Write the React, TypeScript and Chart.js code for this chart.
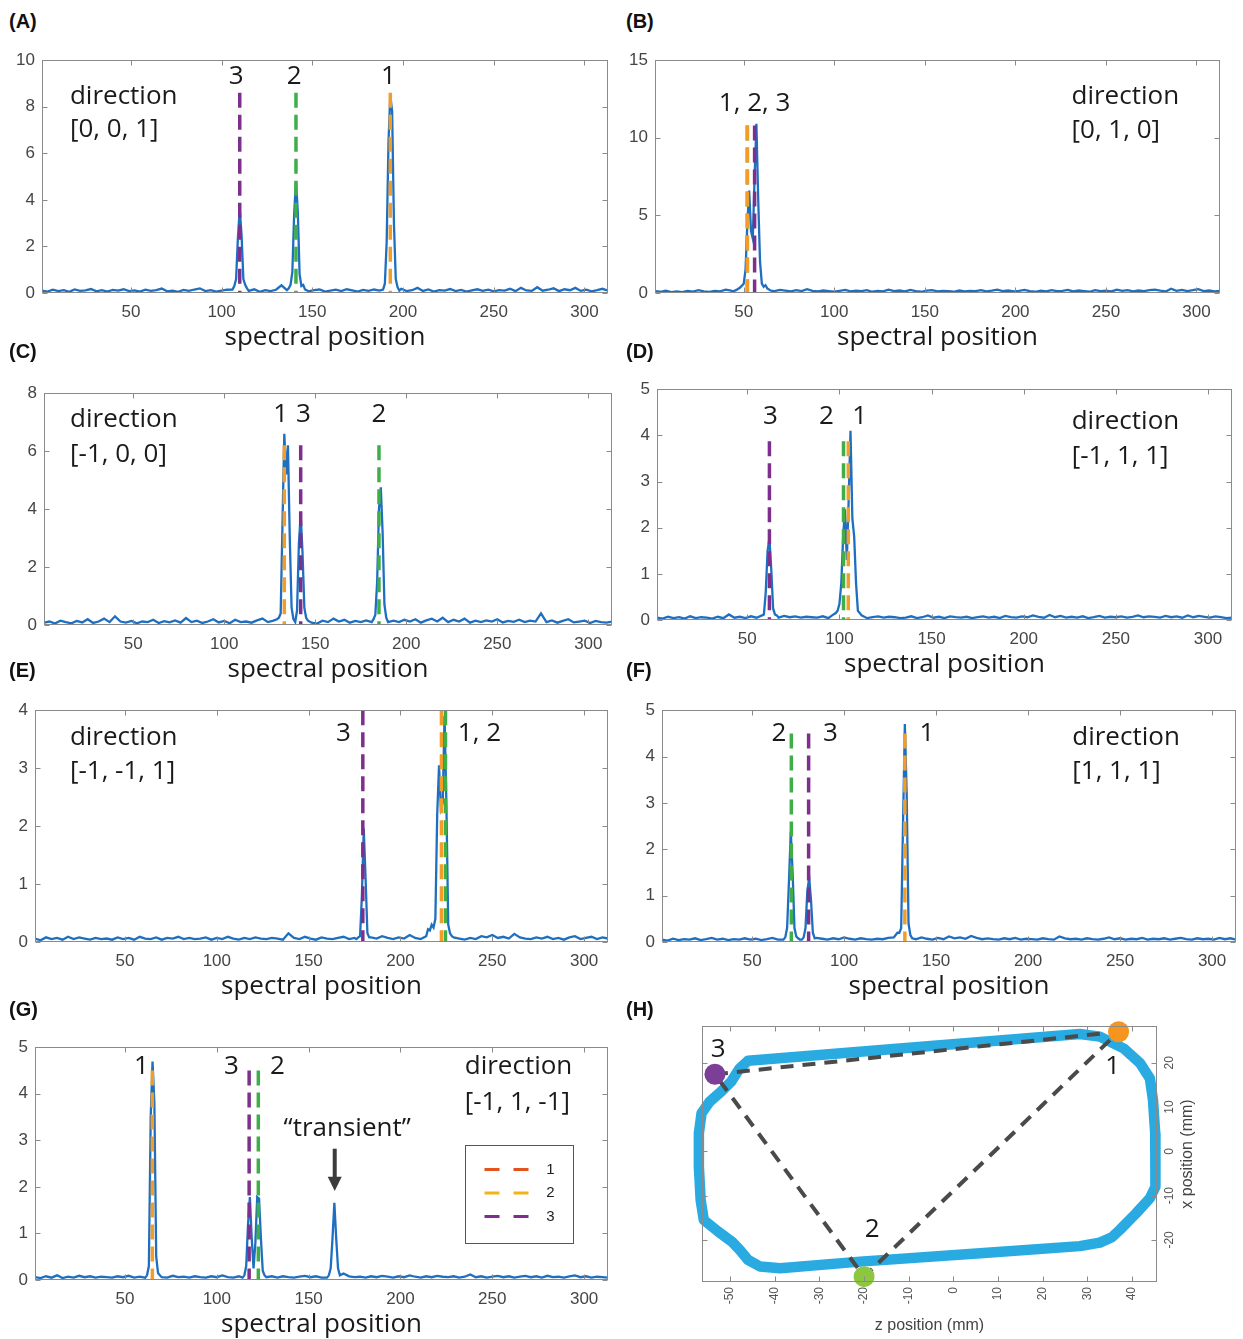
import React, { useEffect, useRef } from "react";
import { Chart, registerables } from "chart.js";
Chart.register(...registerables);

// ---------------- shared axis data ----------------
const X_TICKS = [50, 100, 150, 200, 250, 300];
const X_MIN = 1;
const X_MAX = 313;
const BASE_X0 = 1;
const BASE_STEP = 3;

const COLOR_BLUE = "#1f6fc0";
const MARK_COLORS: Record<number, string> = { 1: "#f29d2a", 2: "#3fae49", 3: "#7e2f8e" };
const LEGEND_COLORS = ["#e2531d", "#f2b316", "#7e2f8e"];
const LEGEND_LABELS = ["1", "2", "3"];
const AXIS_COLOR = "#8a8a8a";
const TEXT_COLOR = "#1a1a1a";
const ANNOT_FONT = "'Open Sans', sans-serif";
const TICK_FONT = "'Liberation Sans', Arial, sans-serif";

// ---------------- panel A: direction [0,0,1] ----------------
const baseA = [
  0.10, 0.06, 0.14, 0.08, 0.12, 0.05, 0.15, 0.09, 0.11, 0.17, 0.07, 0.12, 0.06, 0.13, 0.10,
  0.16, 0.08, 0.11, 0.06, 0.14, 0.09, 0.12, 0.19, 0.07, 0.10, 0.05, 0.13, 0.09, 0.15, 0.20,
  0.08, 0.12, 0.06, 0.10, 0.14, 0.07, 0.22, 0.11, 0.09, 0.16, 0.05, 0.12, 0.08, 0.14, 0.33,
  0.12, 0.25, 0.09, 0.18, 0.07, 0.12, 0.15, 0.06, 0.10, 0.14, 0.08, 0.16, 0.11, 0.06, 0.13,
  0.09, 0.15, 0.10, 0.07, 0.14, 0.11, 0.18, 0.08, 0.12, 0.22, 0.09, 0.15, 0.06, 0.12, 0.10,
  0.17, 0.08, 0.13, 0.06, 0.11, 0.16, 0.09, 0.14, 0.07, 0.12, 0.10, 0.18, 0.08, 0.22, 0.11,
  0.09, 0.25, 0.10, 0.14, 0.20, 0.08, 0.16, 0.12, 0.22, 0.09, 0.14, 0.07, 0.12, 0.18, 0.10,
];
const peaksA = [
  [[106, 0.15], [107, 0.3], [108, 0.6], [109, 2.4], [110, 3.6], [111, 2.5], [112, 0.6], [113, 0.35], [114, 0.2]],
  [[137, 0.2], [138, 0.35], [139, 0.9], [140, 3.4], [141, 4.8], [142, 3.5], [143, 0.8], [144, 0.3], [145, 0.35], [146, 0.15]],
  [[189, 0.15], [190, 0.4], [191, 2.2], [192, 6.5], [193, 8.5], [194, 7.8], [195, 3.0], [196, 0.6], [197, 0.25], [198, 0.1]],
];
const markersA = [{ id: 3, x: 110, top: 8.6 }, { id: 2, x: 141, top: 8.6 }, { id: 1, x: 193, top: 8.6 }];
const numsA = [{ t: "3", x: 108, y: 9.3 }, { t: "2", x: 140, y: 9.3 }, { t: "1", x: 192, y: 9.3 }];
const dirA = ["direction", "[0, 0, 1]"];

// ---------------- panel B: direction [0,1,0] ----------------
const baseB = [
  0.12, 0.08, 0.15, 0.06, 0.10, 0.05, 0.13, 0.09, 0.18, 0.11, 0.07, 0.14, 0.10, 0.22, 0.15,
  0.20, 0.12, 0.18, 0.10, 0.22, 0.15, 0.28, 0.12, 0.20, 0.15, 0.10, 0.18, 0.12, 0.25, 0.14,
  0.10, 0.16, 0.12, 0.08, 0.14, 0.20, 0.10, 0.15, 0.12, 0.18, 0.08, 0.14, 0.10, 0.22, 0.12,
  0.16, 0.10, 0.20, 0.12, 0.08, 0.15, 0.18, 0.10, 0.14, 0.12, 0.08, 0.16, 0.10, 0.14, 0.12,
  0.18, 0.10, 0.15, 0.22, 0.12, 0.16, 0.10, 0.14, 0.20, 0.12, 0.08, 0.15, 0.10, 0.18, 0.12,
  0.14, 0.20, 0.10, 0.16, 0.12, 0.08, 0.18, 0.12, 0.15, 0.10, 0.22, 0.14, 0.18, 0.10, 0.16,
  0.12, 0.18, 0.22, 0.15, 0.10, 0.28, 0.14, 0.20, 0.12, 0.18, 0.25, 0.12, 0.16, 0.10, 0.14,
];
const peaksB = [
  [[44, 0.1], [46, 0.2], [48, 0.35], [50, 0.6], [51, 1.5], [52, 4.5], [53, 6.6], [54, 4.0], [55, 3.5], [56, 7.5],
   [57, 10.9], [58, 6.0], [59, 2.0], [60, 0.6], [61, 0.4], [62, 0.5], [63, 0.3], [65, 0.15]],
];
const markersB = [{ id: 1, x: 52, top: 10.8 }, { id: 2, x: 52, top: 10.8 }, { id: 3, x: 56, top: 10.8 }];
const numsB = [{ t: "1, 2, 3", x: 56, y: 12.2 }];
const dirB = ["direction", "[0, 1, 0]"];

// ---------------- panel C: direction [-1,0,0] ----------------
const baseC = [
  0.08, 0.12, 0.05, 0.15, 0.10, 0.06, 0.14, 0.09, 0.20, 0.07, 0.12, 0.22, 0.10, 0.30, 0.12,
  0.08, 0.14, 0.06, 0.12, 0.10, 0.18, 0.07, 0.13, 0.09, 0.16, 0.08, 0.24, 0.10, 0.15, 0.07,
  0.12, 0.20, 0.09, 0.14, 0.06, 0.18, 0.10, 0.12, 0.08, 0.16, 0.22, 0.10, 0.15, 0.25, 0.12,
  0.10, 0.12, 0.06, 0.14, 0.08, 0.05, 0.15, 0.10, 0.22, 0.12, 0.18, 0.08, 0.14, 0.10, 0.16,
  0.10, 0.08, 0.12, 0.28, 0.15, 0.10, 0.18, 0.12, 0.20, 0.08, 0.16, 0.22, 0.12, 0.25, 0.10,
  0.18, 0.12, 0.22, 0.08, 0.15, 0.10, 0.16, 0.12, 0.20, 0.09, 0.14, 0.11, 0.18, 0.10, 0.15,
  0.12, 0.40, 0.10, 0.16, 0.08, 0.14, 0.20, 0.09, 0.12, 0.15, 0.07, 0.14, 0.10, 0.08, 0.12,
];
const peaksC = [
  [[129, 0.2], [130, 0.25], [131, 0.4], [132, 3.5], [133, 6.6], [134, 5.2], [135, 6.2], [136, 3.0], [137, 0.6],
   [138, 0.2], [139, 0.1], [140, 0.5], [141, 2.8], [142, 3.8], [143, 2.5], [144, 0.6], [145, 0.25], [146, 0.15]],
  [[181, 0.1], [182, 0.2], [183, 0.35], [184, 1.5], [185, 4.0], [186, 4.75], [187, 3.2], [188, 0.7], [189, 0.25], [190, 0.1]],
];
const markersC = [{ id: 1, x: 133, top: 6.2 }, { id: 3, x: 142, top: 6.2 }, { id: 2, x: 185, top: 6.2 }];
const numsC = [{ t: "1", x: 131, y: 7.25 }, { t: "3", x: 143.5, y: 7.25 }, { t: "2", x: 185, y: 7.25 }];
const dirC = ["direction", "[-1, 0, 0]"];

// ---------------- panel D: direction [-1,1,1] ----------------
const baseD = [
  0.05, 0.03, 0.07, 0.04, 0.06, 0.03, 0.08, 0.04, 0.06, 0.05, 0.03, 0.07, 0.04, 0.12, 0.05,
  0.07, 0.04, 0.08, 0.05, 0.06, 0.08, 0.07, 0.05, 0.09, 0.06, 0.08, 0.05, 0.07, 0.06, 0.05,
  0.08, 0.04, 0.07, 0.05, 0.06, 0.09, 0.05, 0.07, 0.04, 0.06, 0.08, 0.05, 0.07, 0.06, 0.04,
  0.05, 0.08, 0.04, 0.06, 0.10, 0.05, 0.07, 0.04, 0.08, 0.06, 0.05, 0.07, 0.04, 0.06, 0.08,
  0.05, 0.07, 0.04, 0.09, 0.06, 0.05, 0.08, 0.06, 0.10, 0.07, 0.05, 0.11, 0.06, 0.09, 0.05,
  0.07, 0.05, 0.08, 0.04, 0.06, 0.09, 0.05, 0.07, 0.06, 0.08, 0.05, 0.07, 0.10, 0.06, 0.08,
  0.07, 0.05, 0.09, 0.06, 0.08, 0.05, 0.10, 0.06, 0.09, 0.07, 0.05, 0.08, 0.06, 0.04, 0.05,
];
const peaksD = [
  [[58, 0.1], [59, 0.12], [60, 0.6], [61, 1.5], [62, 1.77], [63, 1.1], [64, 0.25], [65, 0.12], [66, 0.1]],
  [[96, 0.1], [98, 0.15], [99, 0.2], [100, 0.35], [101, 0.8], [102, 1.8], [103, 2.4], [104, 1.3], [105, 2.6],
   [106, 4.1], [107, 2.2], [108, 1.8], [109, 0.8], [110, 0.2], [111, 0.15], [112, 0.1]],
];
const markersD = [{ id: 3, x: 62, top: 3.87 }, { id: 2, x: 102.2, top: 3.87 }, { id: 1, x: 104.8, top: 3.87 }];
const numsD = [{ t: "3", x: 62.5, y: 4.4 }, { t: "2", x: 93, y: 4.4 }, { t: "1", x: 111, y: 4.4 }];
const dirD = ["direction", "[-1, 1, 1]"];

// ---------------- panel E: direction [-1,-1,1] ----------------
const baseE = [
  0.06, 0.03, 0.08, 0.05, 0.07, 0.04, 0.09, 0.05, 0.08, 0.06, 0.04, 0.07, 0.05, 0.06, 0.04,
  0.08, 0.05, 0.07, 0.04, 0.09, 0.06, 0.05, 0.08, 0.04, 0.07, 0.06, 0.09, 0.05, 0.07, 0.05,
  0.06, 0.08, 0.04, 0.07, 0.05, 0.09, 0.06, 0.04, 0.07, 0.05, 0.08, 0.06, 0.05, 0.07, 0.06,
  0.04, 0.15, 0.07, 0.05, 0.09, 0.06, 0.04, 0.08, 0.06, 0.05, 0.07, 0.09, 0.05, 0.07, 0.06,
  0.05, 0.08, 0.06, 0.10, 0.07, 0.05, 0.08, 0.06, 0.12, 0.07, 0.05, 0.08, 0.06, 0.09, 0.07,
  0.05, 0.08, 0.06, 0.04, 0.07, 0.05, 0.10, 0.08, 0.12, 0.07, 0.09, 0.06, 0.14, 0.08, 0.06,
  0.05, 0.08, 0.06, 0.09, 0.05, 0.07, 0.04, 0.08, 0.10, 0.05, 0.07, 0.09, 0.05, 0.08, 0.06,
];
const peaksE = [
  [[176, 0.05], [177, 0.08], [178, 0.1], [179, 0.8], [180, 1.96], [181, 1.1], [182, 0.15], [183, 0.08]],
  [[214, 0.1], [215, 0.22], [216, 0.2], [217, 0.3], [218, 0.25], [219, 0.4], [220, 2.2], [221, 3.05], [222, 2.3],
   [223, 2.4], [224, 3.9], [225, 2.4], [226, 0.3], [227, 0.15], [228, 0.1]],
];
const markersE = [{ id: 3, x: 179.5, top: 4 }, { id: 1, x: 222.3, top: 4 }, { id: 2, x: 224.5, top: 4 }];
const numsE = [{ t: "3", x: 169, y: 3.6 }, { t: "1, 2", x: 243, y: 3.6 }];
const dirE = ["direction", "[-1, -1, 1]"];

// ---------------- panel F: direction [1,1,1] ----------------
const baseF = [
  0.05, 0.03, 0.07, 0.04, 0.06, 0.05, 0.08, 0.04, 0.06, 0.09, 0.05, 0.07, 0.04, 0.06, 0.05,
  0.08, 0.05, 0.07, 0.04, 0.06, 0.09, 0.05, 0.07, 0.06, 0.08, 0.05, 0.07, 0.06, 0.09, 0.07,
  0.05, 0.08, 0.06, 0.10, 0.07, 0.05, 0.08, 0.06, 0.05, 0.07, 0.06, 0.09, 0.05, 0.07, 0.05,
  0.08, 0.06, 0.10, 0.07, 0.05, 0.09, 0.06, 0.12, 0.08, 0.10, 0.07, 0.13, 0.09, 0.06, 0.08,
  0.06, 0.05, 0.08, 0.06, 0.09, 0.05, 0.07, 0.06, 0.05, 0.08, 0.06, 0.05, 0.12, 0.08, 0.06,
  0.07, 0.05, 0.08, 0.06, 0.05, 0.07, 0.10, 0.06, 0.08, 0.05, 0.07, 0.06, 0.09, 0.05, 0.07,
  0.06, 0.08, 0.05, 0.07, 0.09, 0.06, 0.05, 0.08, 0.06, 0.07, 0.05, 0.09, 0.06, 0.08, 0.05,
];
const peaksF = [
  [[67, 0.05], [68, 0.1], [69, 0.3], [70, 1.3], [71, 2.38], [72, 1.5], [73, 0.3], [74, 0.12], [75, 0.08]],
  [[77, 0.05], [78, 0.1], [79, 0.3], [80, 1.1], [81, 1.39], [82, 0.9], [83, 0.2], [84, 0.08]],
  [[127, 0.1], [128, 0.15], [129, 0.2], [130, 0.2], [131, 0.3], [132, 2.5], [133, 4.7], [134, 3.2], [135, 0.4], [136, 0.15], [137, 0.08]],
];
const markersF = [{ id: 2, x: 71.3, top: 4.5 }, { id: 3, x: 80.7, top: 4.5 }, { id: 1, x: 133, top: 4.5 }];
const numsF = [{ t: "2", x: 64.5, y: 4.5 }, { t: "3", x: 92.5, y: 4.5 }, { t: "1", x: 145, y: 4.5 }];
const dirF = ["direction", "[1, 1, 1]"];

// ---------------- panel G: direction [-1,1,-1] ----------------
const baseG = [
  0.06, 0.04, 0.08, 0.05, 0.10, 0.04, 0.07, 0.05, 0.09, 0.06, 0.08, 0.05, 0.07, 0.06, 0.05,
  0.08, 0.06, 0.09, 0.05, 0.07, 0.06, 0.05, 0.08, 0.06, 0.05, 0.09, 0.06, 0.07, 0.05, 0.08,
  0.06, 0.05, 0.08, 0.06, 0.10, 0.06, 0.05, 0.08, 0.06, 0.09, 0.05, 0.07, 0.06, 0.08, 0.05,
  0.08, 0.06, 0.05, 0.07, 0.09, 0.06, 0.08, 0.05, 0.12, 0.07, 0.06, 0.14, 0.08, 0.06, 0.07,
  0.05, 0.08, 0.06, 0.09, 0.07, 0.05, 0.08, 0.06, 0.10, 0.07, 0.05, 0.08, 0.06, 0.09, 0.07,
  0.06, 0.08, 0.05, 0.07, 0.12, 0.06, 0.08, 0.05, 0.07, 0.09, 0.06, 0.08, 0.05, 0.07, 0.09,
  0.06, 0.08, 0.05, 0.09, 0.06, 0.07, 0.05, 0.08, 0.10, 0.06, 0.08, 0.05, 0.07, 0.06, 0.05,
];
const peaksG = [
  [[61, 0.05], [62, 0.1], [63, 0.3], [64, 3.5], [65, 4.69], [66, 3.8], [67, 0.5], [68, 0.15], [69, 0.1]],
  [[114, 0.05], [115, 0.1], [116, 0.3], [117, 1.2], [118, 1.78], [119, 0.9], [120, 0.25], [121, 0.8], [122, 1.78],
   [123, 1.75], [124, 0.9], [125, 0.2], [126, 0.1]],
  [[160, 0.05], [161, 0.1], [162, 0.25], [163, 0.9], [164, 1.66], [165, 0.9], [166, 0.25], [167, 0.1]],
];
const markersG = [{ id: 1, x: 64.9, top: 4.5 }, { id: 3, x: 117.6, top: 4.5 }, { id: 2, x: 122.6, top: 4.5 }];
const numsG = [{ t: "1", x: 59, y: 4.58 }, { t: "3", x: 108, y: 4.58 }, { t: "2", x: 133, y: 4.58 }];
const dirG = ["direction", "[-1, 1, -1]"];
const transientG = { t: "\u201Ctransient\u201D", x: 171, y: 3.26, arrowX: 164.2, arrowTop: 2.82, arrowHead: 2.22, arrowTip: 1.91 };
const legendG = { x: 235, y: 2.9 };

// ---------------- panel H: trajectory ----------------
const loopZ = [-46.0, -12, 28.3, 32.8, 38.2, 41.8, 44.0, 44.7, 45.2, 45.3, 45.2, 44.0, 40.9, 37.3, 35.5, 32.8, 28.3, 6.0,
  -20.9, -38.8, -43.3, -46.0, -47.8, -49.6, -52.7, -55.9, -56.6, -57.0, -57.0, -56.4, -54.6, -52.0, -49.8, -47.9, -46.0];
const loopX = [20.45, 23.2, 26.5, 25.9, 23.2, 19.9, 16.5, 11.6, 4.1, -3.5, -8.0, -10.6, -14.0, -17.7, -19.4, -20.6, -21.4, -23.0,
  -24.9, -26.4, -26.0, -24.5, -22.3, -20.4, -18.1, -15.5, -11.0, -3.5, 4.1, 8.6, 11.2, 13.5, 15.7, 18.7, 20.45];
const siteLabels = ["1", "2", "3"];
const siteZ = [37, -20, -53.4];
const siteX = [27, -28.3, 17.4];
const siteColors = ["#f7941d", "#8dc63f", "#7b3f98"];
const siteLabelPos = [[35.7, 19.1], [-18.2, -17.7], [-52.7, 22.9]];
const triangleOrder = [2, 0, 1, 2];
const H_X_TICKS = [-50, -40, -30, -20, -10, 0, 10, 20, 30, 40];
const H_Y_TICKS = [-20, -10, 0, 10, 20];

// ---------------- panel table ----------------
const PANELS = [
  { letter: "A", box: [42, 57, 608, 293], yMax: 10, yStep: 2, base: baseA, peaks: peaksA, markers: markersA, nums: numsA, dir: dirA, dirPos: [16.4, 8.43, 7.0] },
  { letter: "B", box: [655, 57, 1220, 293], yMax: 15, yStep: 5, base: baseB, peaks: peaksB, markers: markersB, nums: numsB, dir: dirB, dirPos: [231, 12.65, 10.49] },
  { letter: "C", box: [44, 390, 612, 625], yMax: 8, yStep: 2, base: baseC, peaks: peaksC, markers: markersC, nums: numsC, dir: dirC, dirPos: [15.3, 7.08, 5.89] },
  { letter: "D", box: [657, 386, 1232, 620], yMax: 5, yStep: 1, base: baseD, peaks: peaksD, markers: markersD, nums: numsD, dir: dirD, dirPos: [226, 4.3, 3.55] },
  { letter: "E", box: [35, 707, 608, 942], yMax: 4, yStep: 1, base: baseE, peaks: peaksE, markers: markersE, nums: numsE, dir: dirE, dirPos: [20, 3.52, 2.94] },
  { letter: "F", box: [662, 707, 1236, 942], yMax: 5, yStep: 1, base: baseF, peaks: peaksF, markers: markersF, nums: numsF, dir: dirF, dirPos: [224, 4.4, 3.68] },
  { letter: "G", box: [35, 1044, 608, 1280], yMax: 5, yStep: 1, base: baseG, peaks: peaksG, markers: markersG, nums: numsG, dir: dirG, dirPos: [235, 4.58, 3.81] },
];

const LETTERS = [
  { t: "(A)", x: 9, y: 10 }, { t: "(B)", x: 626, y: 10 },
  { t: "(C)", x: 9, y: 340 }, { t: "(D)", x: 626, y: 340 },
  { t: "(E)", x: 9, y: 659 }, { t: "(F)", x: 626, y: 659 },
  { t: "(G)", x: 9, y: 998 }, { t: "(H)", x: 626, y: 998 },
];

const AX_W = 40;
const AX_H = 60;
const PAD_T = 14;
const PAD_R = 14;
const TICK_LEN = 5;

function buildSpectrum(base: number[], peaks: number[][][]) {
  const pts: { x: number; y: number }[] = [];
  base.forEach((y, i) => {
    const x = BASE_X0 + BASE_STEP * i;
    const inPeak = peaks.some((s) => x >= s[0][0] && x <= s[s.length - 1][0]);
    if (!inPeak) pts.push({ x, y });
  });
  peaks.forEach((s) => s.forEach(([x, y]) => pts.push({ x, y })));
  pts.sort((a, b) => a.x - b.x);
  return pts;
}

function drawBoxAndTicks(ctx: CanvasRenderingContext2D, a: any, xs: any, ys: any, xt: number[], yt: number[]) {
  ctx.strokeStyle = AXIS_COLOR;
  ctx.lineWidth = 1;
  const l = Math.round(a.left) + 0.5, t = Math.round(a.top) + 0.5;
  const r = Math.round(a.right) - 0.5, b = Math.round(a.bottom) - 0.5;
  ctx.strokeRect(l, t, r - l, b - t);
  ctx.beginPath();
  xt.forEach((v) => {
    const px = Math.round(xs.getPixelForValue(v)) + 0.5;
    ctx.moveTo(px, b); ctx.lineTo(px, b - TICK_LEN);
    ctx.moveTo(px, t); ctx.lineTo(px, t + TICK_LEN);
  });
  yt.forEach((v) => {
    const py = Math.round(ys.getPixelForValue(v)) + 0.5;
    ctx.moveTo(l, py); ctx.lineTo(l + TICK_LEN, py);
    ctx.moveTo(r, py); ctx.lineTo(r - TICK_LEN, py);
  });
  ctx.stroke();
}

function makeDecor(p: any) {
  return {
    id: "decor" + p.letter,
    afterDatasetsDraw(chart: any) {
      const { ctx, chartArea: a, scales } = chart;
      const xs = scales.x, ys = scales.y;
      ctx.save();
      const yt = ys.ticks.map((t: any) => t.value);
      drawBoxAndTicks(ctx, a, xs, ys, X_TICKS, yt);
      ctx.fillStyle = TEXT_COLOR;
      ctx.font = `26px ${ANNOT_FONT}`;
      ctx.textAlign = "center";
      ctx.textBaseline = "middle";
      p.nums.forEach((n: any) => ctx.fillText(n.t, xs.getPixelForValue(n.x), ys.getPixelForValue(n.y)));
      ctx.textAlign = "left";
      ctx.fillText(p.dir[0], xs.getPixelForValue(p.dirPos[0]), ys.getPixelForValue(p.dirPos[1]));
      ctx.fillText(p.dir[1], xs.getPixelForValue(p.dirPos[0]), ys.getPixelForValue(p.dirPos[2]));
      if (p.letter === "G") {
        const tr = transientG;
        ctx.textAlign = "center";
        ctx.fillText(tr.t, xs.getPixelForValue(tr.x), ys.getPixelForValue(tr.y));
        const ax = xs.getPixelForValue(tr.arrowX);
        ctx.strokeStyle = "#3c3c3c";
        ctx.fillStyle = "#3c3c3c";
        ctx.lineWidth = 4;
        ctx.beginPath();
        ctx.moveTo(ax, ys.getPixelForValue(tr.arrowTop));
        ctx.lineTo(ax, ys.getPixelForValue(tr.arrowHead) + 1);
        ctx.stroke();
        ctx.beginPath();
        const hy = ys.getPixelForValue(tr.arrowHead);
        ctx.moveTo(ax - 7, hy);
        ctx.lineTo(ax + 7, hy);
        ctx.lineTo(ax, ys.getPixelForValue(tr.arrowTip));
        ctx.closePath();
        ctx.fill();
        // legend box
        const lx = Math.round(xs.getPixelForValue(legendG.x)) + 0.5;
        const ly = Math.round(ys.getPixelForValue(legendG.y)) + 0.5;
        ctx.fillStyle = "#ffffff";
        ctx.fillRect(lx, ly, 108, 98);
        ctx.strokeStyle = "#555555";
        ctx.lineWidth = 1;
        ctx.strokeRect(lx, ly, 108, 98);
        ctx.font = `15px ${TICK_FONT}`;
        ctx.textAlign = "center";
        LEGEND_LABELS.forEach((lab, i) => {
          const ry = ly + 24 + i * 23.5;
          ctx.strokeStyle = LEGEND_COLORS[i];
          ctx.lineWidth = 3;
          ctx.beginPath();
          ctx.moveTo(lx + 19, ry); ctx.lineTo(lx + 34, ry);
          ctx.moveTo(lx + 48, ry); ctx.lineTo(lx + 63, ry);
          ctx.stroke();
          ctx.fillStyle = "#222222";
          ctx.fillText(lab, lx + 85, ry);
        });
      }
      ctx.restore();
    },
  };
}

function SpectrumPanel({ p }: { p: any }) {
  const ref = useRef<HTMLCanvasElement | null>(null);
  const [L, T, R, B] = p.box;
  const w = R - L + AX_W + PAD_R;
  const h = B - T + PAD_T + AX_H;
  useEffect(() => {
    if (!ref.current) return;
    const datasets: any[] = p.markers.map((m: any) => ({
      data: [{ x: m.x, y: m.top }, { x: m.x, y: 0 }],
      borderColor: MARK_COLORS[m.id],
      borderWidth: 3.5,
      borderDash: [15, 7],
      pointRadius: 0,
      order: 0,
    }));
    datasets.push({
      data: buildSpectrum(p.base, p.peaks),
      borderColor: COLOR_BLUE,
      borderWidth: 2.3,
      pointRadius: 0,
      tension: 0,
      order: 1,
    });
    const chart = new Chart(ref.current, {
      type: "line",
      data: { datasets },
      options: {
        responsive: false,
        animation: false,
        events: [],
        layout: { padding: { left: 0, top: PAD_T, right: PAD_R, bottom: 0 } },
        plugins: { legend: { display: false }, tooltip: { enabled: false } },
        scales: {
          x: {
            type: "linear",
            min: X_MIN,
            max: X_MAX,
            afterBuildTicks: (s: any) => { s.ticks = X_TICKS.map((v) => ({ value: v })); },
            afterFit: (s: any) => { s.height = AX_H; },
            grid: { display: false, drawTicks: false },
            border: { display: false },
            ticks: { autoSkip: false, maxRotation: 0, padding: 9, color: "#454545", font: { family: TICK_FONT, size: 17 } },
            title: { display: true, text: "spectral position", color: TEXT_COLOR, padding: 0, font: { family: ANNOT_FONT, size: 26 } },
          },
          y: {
            type: "linear",
            min: 0,
            max: p.yMax,
            afterFit: (s: any) => { s.width = AX_W; },
            grid: { display: false, drawTicks: false },
            border: { display: false },
            ticks: { stepSize: p.yStep, padding: 7, color: "#454545", font: { family: TICK_FONT, size: 17 } },
          },
        },
      } as any,
      plugins: [makeDecor(p)],
    });
    return () => chart.destroy();
  }, []);
  return (
    <canvas ref={ref} width={w} height={h}
      style={{ position: "absolute", left: L - AX_W, top: T - PAD_T, width: w, height: h }} />
  );
}

const H_BOX = [702, 1026, 1157, 1282];
const H_CANVAS = [680, 1000, 1243, 1339];

function TrajectoryPanel() {
  const ref = useRef<HTMLCanvasElement | null>(null);
  const [cl, ct, cr, cb] = H_CANVAS;
  const [L, T, R, B] = H_BOX;
  const w = cr - cl, h = cb - ct;
  useEffect(() => {
    if (!ref.current) return;
    const loop = loopZ.map((z, i) => ({ x: z, y: loopX[i] }));
    const tri = triangleOrder.map((k) => ({ x: siteZ[k], y: siteX[k] }));
    const dots = siteZ.map((z, i) => ({ x: z, y: siteX[i] }));
    const decor = {
      id: "decorH",
      afterDatasetsDraw(chart: any) {
        const { ctx, chartArea: a, scales } = chart;
        const xs = scales.x, ys = scales.y;
        ctx.save();
        drawBoxAndTicks(ctx, a, xs, ys, H_X_TICKS, H_Y_TICKS);
        ctx.fillStyle = "#555555";
        ctx.font = `12px ${TICK_FONT}`;
        ctx.textAlign = "center";
        ctx.textBaseline = "middle";
        H_Y_TICKS.forEach((v) => {
          ctx.save();
          ctx.translate(a.right + 13, ys.getPixelForValue(v));
          ctx.rotate(-Math.PI / 2);
          ctx.fillText(String(v), 0, 0);
          ctx.restore();
        });
        ctx.save();
        ctx.fillStyle = "#444444";
        ctx.font = `16px ${TICK_FONT}`;
        ctx.translate(a.right + 31, (a.top + a.bottom) / 2);
        ctx.rotate(-Math.PI / 2);
        ctx.fillText("x position (mm)", 0, 0);
        ctx.restore();
        ctx.fillStyle = TEXT_COLOR;
        ctx.font = `26px ${ANNOT_FONT}`;
        siteLabels.forEach((lab, i) => {
          ctx.fillText(lab, xs.getPixelForValue(siteLabelPos[i][0]), ys.getPixelForValue(siteLabelPos[i][1]));
        });
        ctx.restore();
      },
    };
    const chart = new Chart(ref.current, {
      type: "scatter",
      data: {
        datasets: [
          { data: loop, showLine: true, borderColor: "#29abe2", borderWidth: 10.5, borderJoinStyle: "round", borderCapStyle: "round", pointRadius: 0, clip: false, order: 3 },
          { data: tri, showLine: true, borderColor: "#4a4a4a", borderWidth: 4, borderDash: [13, 9], pointRadius: 0, clip: false, order: 2 },
          { data: dots, showLine: false, pointRadius: 10.5, pointBackgroundColor: siteColors, pointBorderWidth: 0, borderWidth: 0, clip: false, order: 1 },
        ],
      },
      options: {
        responsive: false,
        animation: false,
        events: [],
        layout: { padding: { left: L - cl, top: T - ct, right: cr - R, bottom: 0 } },
        plugins: { legend: { display: false }, tooltip: { enabled: false } },
        scales: {
          x: {
            type: "linear",
            min: -56.3,
            max: 45.6,
            afterBuildTicks: (s: any) => { s.ticks = H_X_TICKS.map((v) => ({ value: v })); },
            afterFit: (s: any) => { s.height = cb - B; },
            grid: { display: false, drawTicks: false },
            border: { display: false },
            ticks: { autoSkip: false, minRotation: 90, maxRotation: 90, padding: 5, color: "#555555", font: { family: TICK_FONT, size: 12 } },
            title: { display: true, text: "z position (mm)", color: "#444444", padding: { top: 0, bottom: 4 }, font: { family: TICK_FONT, size: 16 } },
          },
          y: {
            type: "linear",
            display: false,
            min: -29.5,
            max: 28.3,
          },
        },
      } as any,
      plugins: [decor],
    });
    return () => chart.destroy();
  }, []);
  return (
    <canvas ref={ref} width={w} height={h}
      style={{ position: "absolute", left: cl, top: ct, width: w, height: h }} />
  );
}

export default function App() {
  return (
    <div style={{ position: "absolute", left: 0, top: 0, width: 1243, height: 1339, background: "#ffffff", overflow: "hidden" }}>
      {PANELS.map((p) => <SpectrumPanel key={p.letter} p={p} />)}
      <TrajectoryPanel />
      {LETTERS.map((l) => (
        <div key={l.t} style={{ position: "absolute", left: l.x, top: l.y, font: `bold 20px ${TICK_FONT}`, color: "#111" }}>{l.t}</div>
      ))}
    </div>
  );
}
